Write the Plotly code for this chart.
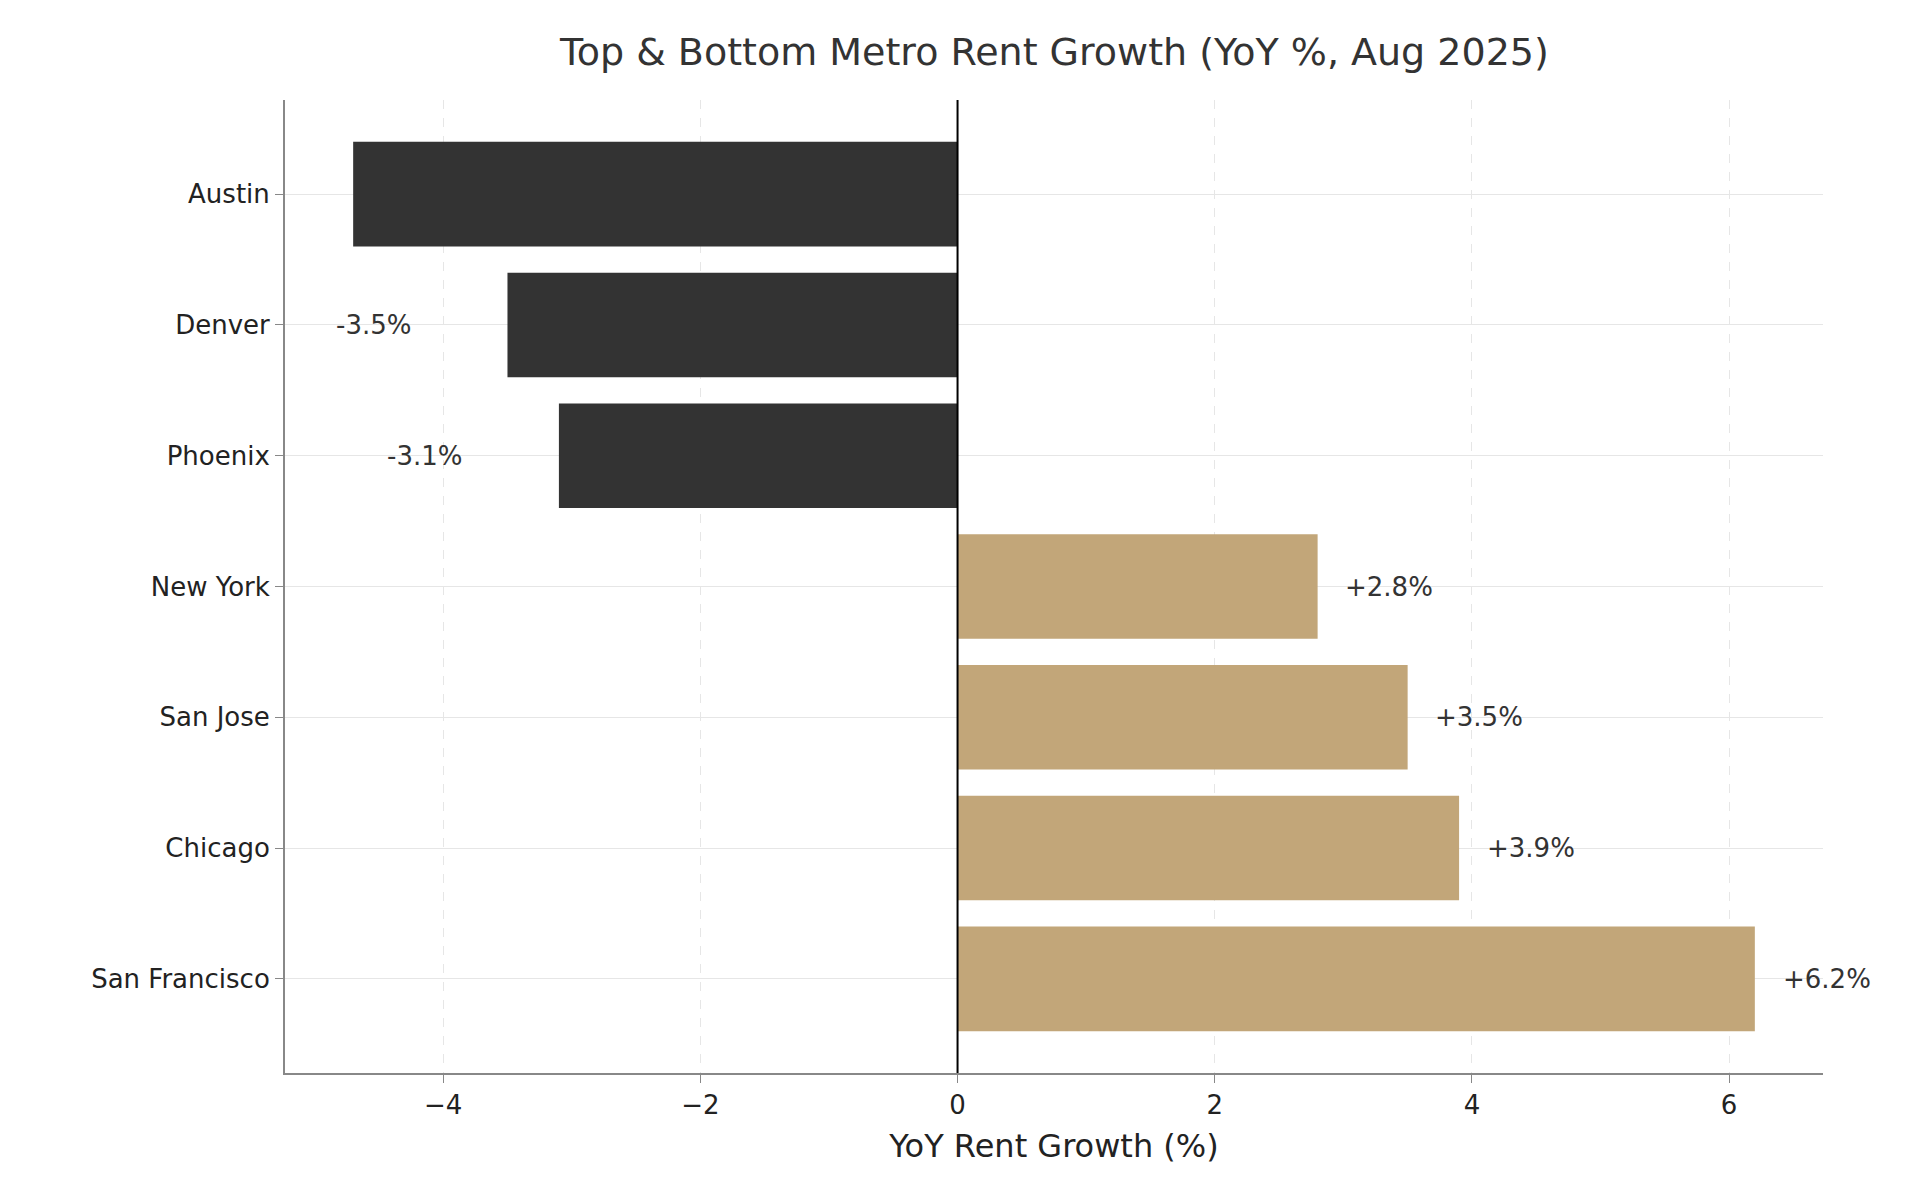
import plotly.graph_objects as go

cities = ["Austin", "Denver", "Phoenix", "New York", "San Jose", "Chicago", "San Francisco"]
growth = [-4.7, -3.5, -3.1, 2.8, 3.5, 3.9, 6.2]
xticks = [-4, -2, 0, 2, 4, 6]
xtick_labels = ["\u22124", "\u22122", "0", "2", "4", "6"]

colors = ["#333333" if v < 0 else "#c2a679" for v in growth]
fig = go.Figure(go.Bar(x=growth, y=cities, orientation="h", marker_color=colors,
                       marker_line_width=0, width=0.8))

for c, v in zip(cities, growth):
    fig.add_annotation(x=(v + 0.2) if v > 0 else (v - 1.35), y=c,
                       text=f"{v:+.1f}%", showarrow=False, xanchor="left",
                       font=dict(size=26, color="#333333"))

fig.add_vline(x=0, line_color="black", line_width=2)

fig.update_layout(
    width=1920, height=1200, plot_bgcolor="white", paper_bgcolor="white",
    font=dict(family="DejaVu Sans", color="#222222", size=26),
    title=dict(text="Top & Bottom Metro Rent Growth (YoY %, Aug 2025)", x=0.545, xanchor="center",
               y=0.975, font=dict(size=38, color="#333333")),
    margin=dict(l=277, r=105, t=92, b=135),
    showlegend=False,
)
fig.update_xaxes(range=[-5.23, 6.73], tickvals=xticks, ticktext=xtick_labels,
                 showgrid=True, gridcolor="#e6e6e6", griddash="dash", gridwidth=1,
                 zeroline=False, showline=True, linecolor="#888888", linewidth=2,
                 ticks="outside", ticklen=8, tickcolor="#888888", layer="above traces",
                 title=dict(text="YoY Rent Growth (%)", font=dict(size=32)))
fig.update_yaxes(categoryorder="array", categoryarray=cities[::-1], range=[-0.72, 6.72],
                 showgrid=True, gridcolor="#e6e6e6", gridwidth=1, zeroline=False,
                 showline=True, linecolor="#888888", linewidth=2,
                 ticks="outside", ticklen=8, tickcolor="#888888", layer="above traces")
fig.write_html("out.html")
